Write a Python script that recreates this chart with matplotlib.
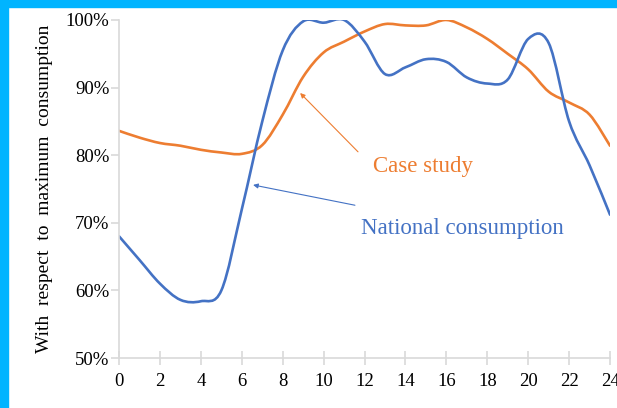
import matplotlib
matplotlib.use("Agg")
import matplotlib.pyplot as plt
from matplotlib.path import Path
from matplotlib.patches import PathPatch, Rectangle
import numpy as np

plt.rcParams['font.family'] = ['Liberation Serif', 'DejaVu Serif']

# hourly values, % of maximum consumption
hours = list(range(25))
national = [68.0, 64.5, 61.0, 58.6, 58.4, 60.0, 72.0, 85.0, 95.5, 99.8, 99.6, 100.0, 96.8,
            92.0, 93.0, 94.2, 93.8, 91.5, 90.6, 91.2, 97.2, 96.6, 85.0, 78.5, 71.2]
case_study = [83.6, 82.6, 81.8, 81.4, 80.8, 80.4, 80.2, 81.5, 86.0, 91.6, 95.2, 96.8, 98.3,
              99.4, 99.2, 99.2, 100.0, 98.9, 97.2, 95.0, 92.7, 89.4, 87.8, 86.0, 81.4]

blue = '#4472C4'
orange = '#ED7D31'


def smooth_path(xs, ys):
    # Catmull-Rom style bezier, like a spreadsheet "smoothed line"
    pts = np.column_stack([xs, ys]).astype(float)
    verts = [pts[0]]
    codes = [Path.MOVETO]
    n = len(pts)
    t = 1 / 6
    for i in range(n - 1):
        p0 = pts[i - 1] if i > 0 else pts[i]
        p1 = pts[i]
        p2 = pts[i + 1]
        p3 = pts[i + 2] if i + 2 < n else pts[i + 1]
        c1 = p1 + (p2 - p0) * t
        c2 = p2 - (p3 - p1) * t
        verts += [c1, c2, p2]
        codes += [Path.CURVE4] * 3
    return Path(verts, codes)


fig = plt.figure(figsize=(6.17, 4.08), dpi=100)
ax = fig.add_axes([0.193, 0.1225, 0.7957, 0.8285])

ax.add_patch(PathPatch(smooth_path(hours, case_study), fill=False, edgecolor=orange,
                       lw=1.9, capstyle='round'))
ax.add_patch(PathPatch(smooth_path(hours, national), fill=False, edgecolor=blue,
                       lw=1.9, capstyle='round'))

ax.set_xlim(0, 24)
ax.set_ylim(50, 100)
ax.set_xticks(range(0, 25, 2))
ax.set_yticks(range(50, 101, 10))
ax.set_yticklabels([f"{v}%" for v in range(50, 101, 10)])

for s in ['top', 'right']:
    ax.spines[s].set_visible(False)
for s in ['left', 'bottom']:
    ax.spines[s].set_color('#D9D9D9')
    ax.spines[s].set_linewidth(1.2)
ax.tick_params(axis='x', direction='inout', length=10, color='#D9D9D9', width=1.2,
               labelsize=13.5, pad=6)
ax.tick_params(axis='y', direction='out', length=6, color='#D9D9D9', width=1.2,
               labelsize=13.5, pad=1)
ax.set_ylabel("With  respect  to  maximum  consumption", fontsize=14, labelpad=9)

# labels and their pointer arrows
ax.text(14.86, 78.4, "Case study", color=orange, fontsize=16.5, ha='center', va='center')
ax.annotate("", xy=(8.85, 89.2), xytext=(11.68, 80.5),
            arrowprops=dict(arrowstyle='-|>', color=orange, lw=0.8,
                            mutation_scale=7, shrinkA=0, shrinkB=0))
ax.text(16.8, 69.2, "National consumption", color=blue, fontsize=16.5,
        ha='center', va='center')
ax.annotate("", xy=(6.55, 75.6), xytext=(11.53, 72.6),
            arrowprops=dict(arrowstyle='-|>', color=blue, lw=0.8,
                            mutation_scale=7, shrinkA=0, shrinkB=0))

# blue frame from the slide
fig.patches.append(Rectangle((0, 1 - 7 / 408), 1, 7 / 408, transform=fig.transFigure,
                             color='#00B4FF', zorder=0))
fig.patches.append(Rectangle((0, 0), 8 / 617, 1, transform=fig.transFigure,
                             color='#00B4FF', zorder=0))

fig.savefig("out.png", dpi=100)
